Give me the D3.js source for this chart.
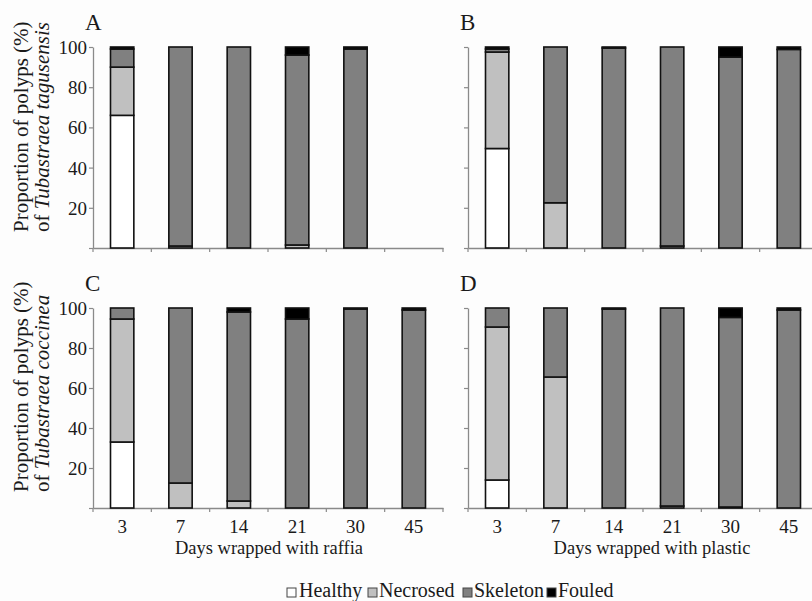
<!DOCTYPE html>
<html>
<head>
<meta charset="utf-8">
<script src="https://cdn.jsdelivr.net/npm/d3@7"></script>
<style>
  html, body { margin: 0; padding: 0; background: #fdfdfd; }
  svg { display: block; }
  svg text { font-family: "Liberation Serif", "Times New Roman", Times, "DejaVu Serif", serif !important; fill: #1a1a1a; }
</style>
</head>
<body>
<svg id="chart" width="812" height="601"></svg>
<script>
// ---- data ----
const days = ["3", "7", "14", "21", "30", "45"];
const categories = ["Healthy", "Necrosed", "Skeleton", "Fouled"];
const yTicks = [20, 40, 60, 80, 100];

// A: Tubastraea tagusensis, raffia
const aHealthy  = [66, 0, 0, 0, 0, 0];
const aNecrosed = [24, 1, 0, 1.5, 0, 0];
const aSkeleton = [9, 99, 100, 94.5, 99, 0];
const aFouled   = [1, 0, 0, 4, 1, 0];
// B: Tubastraea tagusensis, plastic
const bHealthy  = [49.5, 0, 0, 0, 0, 0];
const bNecrosed = [48, 22.5, 0, 1, 0, 0];
const bSkeleton = [1.5, 77.5, 99.5, 99, 95, 98.8];
const bFouled   = [1, 0, 0.5, 0, 5, 1.2];
// C: Tubastraea coccinea, raffia
const cHealthy  = [33, 0, 0, 0, 0, 0];
const cNecrosed = [61.5, 12.5, 3.5, 0, 0, 0];
const cSkeleton = [5.5, 87.5, 94.5, 94.5, 99.5, 99];
const cFouled   = [0, 0, 2, 5.5, 0.5, 1];
// D: Tubastraea coccinea, plastic
const dHealthy  = [14, 0, 0, 0, 0, 0];
const dNecrosed = [76.5, 65.5, 0, 1, 0.5, 0];
const dSkeleton = [9.5, 34.5, 99.5, 99, 94.8, 99];
const dFouled   = [0, 0, 0.5, 0, 4.7, 1];

const colors = { Healthy: "#ffffff", Necrosed: "#c0c0c0", Skeleton: "#808080", Fouled: "#000000" };
const FONT = "'Liberation Serif', 'Times New Roman', Times, 'DejaVu Serif', serif";

function rows(h, n, s, f) {
  return days.map((d, i) => ({ day: d, Healthy: h[i], Necrosed: n[i], Skeleton: s[i], Fouled: f[i] }));
}

const panels = [
  { letter: "A", data: rows(aHealthy, aNecrosed, aSkeleton, aFouled), x0: 93, x1: 443, yTop: 47, yBot: 248, yLabels: true, xLabels: false, species: "tagusensis" },
  { letter: "B", data: rows(bHealthy, bNecrosed, bSkeleton, bFouled), x0: 468, x1: 818, yTop: 47, yBot: 248, yLabels: false, xLabels: false },
  { letter: "C", data: rows(cHealthy, cNecrosed, cSkeleton, cFouled), x0: 93, x1: 443, yTop: 308, yBot: 508, yLabels: true, xLabels: true, species: "coccinea", xTitle: "Days wrapped with raffia", xTitleX: 269 },
  { letter: "D", data: rows(dHealthy, dNecrosed, dSkeleton, dFouled), x0: 468, x1: 818, yTop: 308, yBot: 508, yLabels: false, xLabels: true, xTitle: "Days wrapped with plastic", xTitleX: 652 }
];

const svg = d3.select("#chart").attr("font-family", FONT);
const stack = d3.stack().keys(categories);
const axisColor = "#8a8a8a";

panels.forEach(p => {
  const g = svg.append("g");
  const x = d3.scaleBand().domain(days).range([p.x0, p.x1]).paddingInner(0.6).paddingOuter(0.3);
  const xb = d3.scaleBand().domain(days).range([p.x0, p.x1]);
  const y = d3.scaleLinear().domain([0, 100]).range([p.yBot, p.yTop]);

  // y axis
  const ya = g.append("g").attr("transform", `translate(${p.x0},0)`)
    .call(d3.axisLeft(y).tickValues([0].concat(yTicks)).tickSize(4).tickSizeOuter(0)
      .tickFormat(d => (p.yLabels && d > 0) ? d : ""));
  ya.attr("font-family", FONT);
  ya.select(".domain").attr("stroke", axisColor).attr("stroke-width", 1.3);
  ya.selectAll(".tick line").attr("stroke", axisColor).attr("stroke-width", 1.2);
  ya.selectAll(".tick text").attr("font-size", "19px").attr("x", -6).attr("dy", "0.34em")
    .attr("fill", "#1a1a1a");

  // x axis
  const xa = g.append("g").attr("transform", `translate(0,${p.yBot})`)
    .call(d3.axisBottom(xb).tickSize(0).tickFormat(p.xLabels ? (d => d) : () => ""));
  xa.attr("font-family", FONT);
  xa.select(".domain").attr("stroke", axisColor).attr("stroke-width", 1.3);
  xa.selectAll(".tick text").attr("font-size", "19px").attr("y", 12).attr("dy", "0.71em")
    .attr("fill", "#1a1a1a");
  // boundary tick marks
  const bounds = days.map(d => xb(d)).concat([p.x1]);
  g.append("g").selectAll("line").data(bounds).join("line")
    .attr("x1", d => d).attr("x2", d => d)
    .attr("y1", p.yBot).attr("y2", p.yBot + 4)
    .attr("stroke", axisColor).attr("stroke-width", 1.2);

  // bars
  const series = stack(p.data);
  g.append("g").selectAll("g").data(series).join("g")
    .attr("fill", s => colors[s.key])
    .selectAll("rect").data(s => s.filter(d => d[1] - d[0] > 0)).join("rect")
    .attr("x", d => x(d.data.day))
    .attr("width", x.bandwidth())
    .attr("y", d => y(d[1]))
    .attr("height", d => y(d[0]) - y(d[1]))
    .attr("stroke", "#111")
    .attr("stroke-width", 1.6);

  // panel letter
  g.append("text").attr("x", p.x0 - 8).attr("y", p.yTop - 17)
    .attr("font-size", "23px").text(p.letter);

  // y title
  if (p.species) {
    const cx = 28, bottom = p.yBot - 16;
    g.append("text").attr("transform", `translate(${cx},${bottom}) rotate(-90)`)
      .attr("font-size", "21px").text("Proportion of polyps (%)");
    const t2 = g.append("text").attr("transform", `translate(${cx + 21},${bottom}) rotate(-90)`)
      .attr("font-size", "21px");
    t2.append("tspan").text("of ");
    t2.append("tspan").attr("font-style", "italic").text("Tubastraea " + p.species);
  }

  // x title
  if (p.xTitle) {
    g.append("text").attr("x", p.xTitleX).attr("y", p.yBot + 46)
      .attr("text-anchor", "middle").attr("font-size", "18.5px").text(p.xTitle);
  }
});

// legend
const legendItems = [
  { key: "Healthy", sx: 287, tx: 299 },
  { key: "Necrosed", sx: 368, tx: 379 },
  { key: "Skeleton", sx: 463, tx: 474 },
  { key: "Fouled", sx: 547, tx: 558 }
];
const lg = svg.append("g");
lg.selectAll("rect").data(legendItems).join("rect")
  .attr("x", d => d.sx).attr("y", 588).attr("width", 9).attr("height", 9)
  .attr("fill", d => colors[d.key]).attr("stroke", "#444").attr("stroke-width", 1);
lg.selectAll("text").data(legendItems).join("text")
  .attr("x", d => d.tx).attr("y", 597).attr("font-size", "20px").text(d => d.key);
</script>
</body>
</html>
